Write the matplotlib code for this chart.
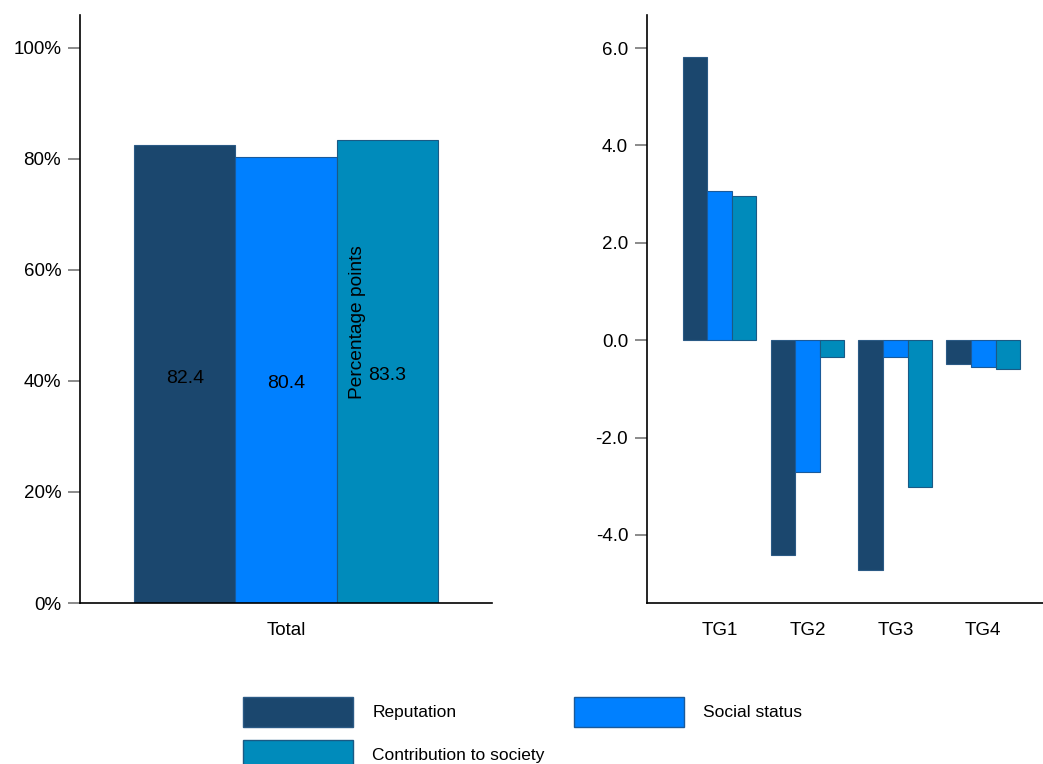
import numpy as np
import matplotlib
matplotlib.use("Agg")
import matplotlib.pyplot as plt
from matplotlib.patches import Patch
from matplotlib.ticker import FuncFormatter

plt.rcParams['font.family'] = ['Liberation Sans', 'DejaVu Sans']
plt.rcParams['font.size'] = 13.5

# data
series = ["Reputation", "Social status", "Contribution to society"]
colors = ["#1B476E", "#0080FF", "#008BBB"]
edges = ["#2B5A85", "#1A5A9A", "#1A5A85"]

total_cat = ["Total"]
total_vals = [82.4, 80.4, 83.3]

groups = ["TG1", "TG2", "TG3", "TG4"]
group_vals = {
    "Reputation": [5.82, -4.42, -4.73, -0.49],
    "Social status": [3.06, -2.71, -0.34, -0.55],
    "Contribution to society": [2.97, -0.34, -3.02, -0.60],
}

fig = plt.figure(figsize=(10.43, 7.64), dpi=100)
W, H = 1043, 764

def px_axes(x0, x1, ytop, ybot):
    return fig.add_axes([x0 / W, 1 - ybot / H, (x1 - x0) / W, (ybot - ytop) / H])

def style(ax):
    ax.spines['top'].set_visible(False)
    ax.spines['right'].set_visible(False)
    ax.spines['left'].set_linewidth(1.2)
    ax.spines['bottom'].set_linewidth(1.2)
    ax.tick_params(axis='y', direction='out', length=9, width=1.2, color='#777777', pad=4.5,
                   labelsize=13.5)
    ax.tick_params(axis='x', length=0, pad=14, labelsize=13.5)

# left panel
ax1 = px_axes(80, 492, 15, 603)
bw = 0.248
x = np.arange(len(total_cat))
for i, s in enumerate(series):
    ax1.bar(x + (i - 1) * bw, [total_vals[i]], bw, color=colors[i],
            edgecolor=edges[i], linewidth=0.8)
    ax1.annotate(f"{total_vals[i]:.1f}", (x[0] + (i - 1) * bw, total_vals[i] / 2),
                 xytext=(0, -4), textcoords='offset pixels',
                 ha='center', va='center', fontsize=14)
ax1.set_xlim(-0.505, 0.505)
ax1.set_ylim(0, 105.9)
ax1.set_yticks([0, 20, 40, 60, 80, 100])
ax1.yaxis.set_major_formatter(FuncFormatter(lambda v, p: f"{v:.0f}%"))
ax1.set_xticks(x)
ax1.set_xticklabels(total_cat)
style(ax1)

# right panel
ax2 = px_axes(647, 1043, 15, 603)
bw2 = 0.28
x2 = np.arange(len(groups))
for i, s in enumerate(series):
    ax2.bar(x2 + (i - 1) * bw2, group_vals[s], bw2, color=colors[i],
            edgecolor=edges[i], linewidth=0.8)
ax2.set_xlim(-0.825, 3.68)
ax2.set_ylim(-5.40, 6.68)
ax2.set_yticks([-4, -2, 0, 2, 4, 6])
ax2.yaxis.set_major_formatter(FuncFormatter(lambda v, p: f"{v:.1f}"))
ax2.set_xticks(x2)
ax2.set_xticklabels(groups)
style(ax2)

fig.text(357 / W, 1 - 322 / H, "Percentage points", rotation=90,
         ha='center', va='center', fontsize=13.8)

handles = [Patch(facecolor=colors[i], edgecolor=edges[i], label=series[i]) for i in [0, 2, 1]]
fig.legend(handles=handles, loc='upper left', bbox_to_anchor=(243 / W, 1 - 697 / H),
           ncol=2, frameon=False, borderpad=0, borderaxespad=0,
           handlelength=6.34, handleheight=2.28, handletextpad=1.1,
           columnspacing=1.67, labelspacing=0.75, fontsize=12.5)

fig.savefig("out.png", dpi=100)
